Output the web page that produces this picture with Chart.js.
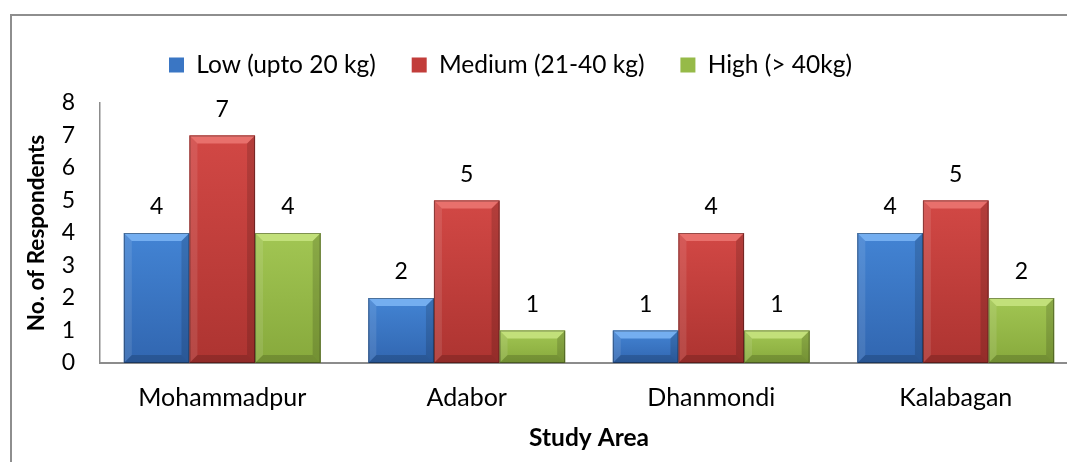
<!DOCTYPE html>
<html>
<head>
<meta charset="utf-8">
<title>Study Area</title>
<script src="https://cdn.jsdelivr.net/npm/chart.js@4.4.1/dist/chart.umd.min.js"></script>
<style>
  html, body { margin: 0; padding: 0; background: #fff; overflow: hidden; }
  #frame { position: absolute; left: 10px; top: 14px; width: 1200px; height: 600px; border: 2px solid #8e8e8e; }
  #wrap { position: absolute; left: 0; top: 0; width: 1090px; height: 462px; }
</style>
</head>
<body>
<div id="frame"></div>
<div id="wrap"><canvas id="chart"></canvas></div>
<script>
// ---- data ----
const areas = ["Mohammadpur", "Adabor", "Dhanmondi", "Kalabagan"];
const seriesNames = ["Low (upto 20 kg)", "Medium (21-40 kg)", "High (> 40kg)"];
const lowValues = [4, 2, 1, 4];
const mediumValues = [7, 5, 4, 5];
const highValues = [4, 1, 1, 2];
const yMin = 0;
const yMax = 8;
const yStep = 1;

// ---- styles ----
const FONT = "Lato";
const FONT_SIZE = 23;      // y ticks, value labels
const CAT_SIZE = 25;       // x category labels
const LEGEND_SIZE = 24.5;
const LEGEND_PAD = 36;
const BASE_COLORS = ["#3a76c4", "#c23d3a", "#96ba48"];
const SHADES = [
  { top: "#4384d4", bottom: "#3166b0", light: "#74aef0" },
  { top: "#d24845", bottom: "#ad3431", light: "#e8706c" },
  { top: "#a2c653", bottom: "#87a93c", light: "#c2e07a" },
];

Chart.defaults.font.family = FONT;
Chart.defaults.font.size = FONT_SIZE;
Chart.defaults.color = "#000";

function fillPoly(ctx, pts, color) {
  ctx.beginPath();
  ctx.moveTo(pts[0][0], pts[0][1]);
  for (let i = 1; i < pts.length; i++) ctx.lineTo(pts[i][0], pts[i][1]);
  ctx.closePath();
  ctx.fillStyle = color;
  ctx.fill();
}

/** Excel-like bevel on each bar, drawn over the library's bar elements */
const bevelPlugin = {
  id: "bevel",
  afterDatasetsDraw(chart) {
    const ctx = chart.ctx;
    chart.data.datasets.forEach((ds, di) => {
      const s = SHADES[di];
      chart.getDatasetMeta(di).data.forEach((el) => {
        const { x, y, base, width } = el.getProps(["x", "y", "base", "width"], true);
        const x0 = x - width / 2, x1 = x + width / 2;
        const top = Math.min(y, base), bot = Math.max(y, base);
        const h = bot - top;
        const b = Math.min(8, h / 2, width / 2);
        ctx.save();
        const g = ctx.createLinearGradient(0, top, 0, bot);
        g.addColorStop(0, s.top);
        g.addColorStop(1, s.bottom);
        ctx.fillStyle = g;
        ctx.fillRect(x0, top, width, h);
        fillPoly(ctx, [[x0, top], [x1, top], [x1 - b, top + b], [x0 + b, top + b]], s.light);
        fillPoly(ctx, [[x0, top], [x0 + b, top + b], [x0 + b, bot - b], [x0, bot]], "rgba(255,255,255,0.10)");
        fillPoly(ctx, [[x1, top], [x1, bot], [x1 - b, bot - b], [x1 - b, top + b]], "rgba(0,0,0,0.14)");
        fillPoly(ctx, [[x0, bot], [x1, bot], [x1 - b, bot - b], [x0 + b, bot - b]], "rgba(0,0,0,0.16)");
        ctx.strokeStyle = "rgba(0,0,0,0.35)";
        ctx.lineWidth = 1;
        ctx.strokeRect(x0 + 0.5, top + 0.5, width - 1, h - 1);
        ctx.restore();
      });
    });
  },
};

/** value labels above the bars */
const valueLabelPlugin = {
  id: "valueLabels",
  afterDatasetsDraw(chart) {
    const ctx = chart.ctx;
    ctx.save();
    ctx.font = `${FONT_SIZE}px ${FONT}`;
    ctx.fillStyle = "#000";
    ctx.textAlign = "center";
    ctx.textBaseline = "middle";
    chart.data.datasets.forEach((ds, di) => {
      chart.getDatasetMeta(di).data.forEach((el, i) => {
        ctx.fillText(String(ds.data[i]), el.x, el.y - 26);
      });
    });
    ctx.restore();
  },
};

/** put the legend where the original has it */
const legendPlacePlugin = {
  id: "legendPlace",
  afterLayout(chart) {
    const lg = chart.legend;
    if (!lg) return;
    lg.left = 169 - LEGEND_PAD;
    lg.right = chart.width;
    lg.top = 65 - LEGEND_PAD - LEGEND_SIZE / 2;
  },
};

new Chart(document.getElementById("chart"), {
  type: "bar",
  data: {
    labels: areas,
    datasets: [
      { label: seriesNames[0], data: lowValues, backgroundColor: BASE_COLORS[0] },
      { label: seriesNames[1], data: mediumValues, backgroundColor: BASE_COLORS[1] },
      { label: seriesNames[2], data: highValues, backgroundColor: BASE_COLORS[2] },
    ],
  },
  options: {
    responsive: true,
    maintainAspectRatio: false,
    animation: false,
    layout: { padding: { top: 103 - (LEGEND_SIZE + LEGEND_PAD + 10), left: 0, right: 12, bottom: 0 } },
    datasets: { bar: { barPercentage: 1, categoryPercentage: 0.805 } },
    plugins: {
      legend: {
        position: "top",
        align: "start",
        labels: {
          boxWidth: 15, boxHeight: 15, padding: LEGEND_PAD, color: "#000",
          font: { size: LEGEND_SIZE },
        },
      },
      tooltip: { enabled: false },
    },
    scales: {
      x: {
        grid: { display: false, drawTicks: false },
        border: { display: true, color: "#8c8c8c", width: 2 },
        ticks: { padding: 20, color: "#000", font: { size: CAT_SIZE } },
        title: {
          display: true, text: "Study Area", color: "#000",
          font: { weight: "bold", size: 24.5 }, padding: { top: 0, bottom: 9 },
        },
        afterFit: (s) => { s.height = 99; },
      },
      y: {
        min: yMin, max: yMax,
        grid: { display: false, drawTicks: false },
        border: { display: true, color: "#8c8c8c", width: 1.5 },
        ticks: { stepSize: yStep, padding: 25, color: "#000" },
        title: {
          display: true, text: "No. of Respondents", color: "#000",
          font: { weight: "bold", size: 22.5 }, padding: { top: 23, bottom: 0 },
        },
        afterFit: (s) => { s.width = 100; },
      },
    },
  },
  plugins: [bevelPlugin, valueLabelPlugin, legendPlacePlugin],
});
</script>
</body>
</html>
